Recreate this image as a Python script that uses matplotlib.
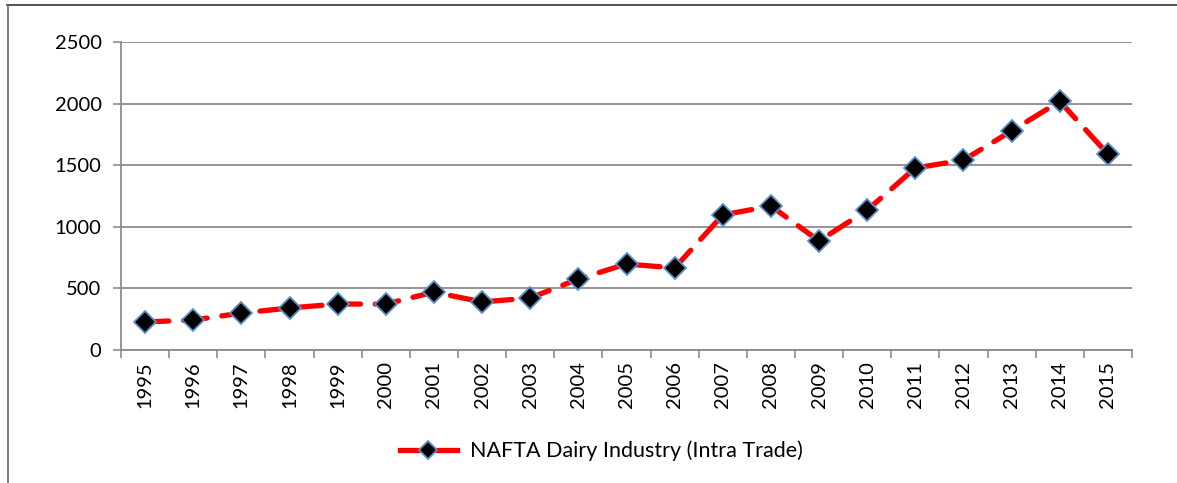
import matplotlib
matplotlib.use("Agg")
import matplotlib.pyplot as plt
from matplotlib.lines import Line2D

# values
years = ["1995", "1996", "1997", "1998", "1999", "2000", "2001", "2002", "2003", "2004",
         "2005", "2006", "2007", "2008", "2009", "2010", "2011", "2012", "2013", "2014", "2015"]
trade = [228, 243, 300, 341, 373, 373, 470, 390, 422, 576,
         698, 666, 1096, 1169, 885, 1136, 1477, 1542, 1778, 2018, 1590]
y_ticks = [0, 500, 1000, 1500, 2000, 2500]

plt.rcParams["font.family"] = ["Lato", "DejaVu Sans"]

W, H = 1177, 483
fig = plt.figure(figsize=(W / 100, H / 100), dpi=100)
ax = fig.add_axes([121 / W, 1 - 350 / H, (1132 - 121) / W, (350 - 42) / H])

x = list(range(len(years)))
ax.plot(x, trade, color="#ff0000", lw=3.8, dashes=(4.5, 2.8), dash_capstyle="round",
        marker="D", markersize=11, markerfacecolor="black", markeredgecolor="#5b8fc9",
        markeredgewidth=1.3, label="NAFTA Dairy Industry (Intra Trade)", zorder=3)

grid_c = "#8c8c8c"
ax.set_ylim(0, 2500)
ax.set_yticks(y_ticks)
ax.set_xlim(-0.5, len(years) - 0.5)
ax.set_xticks(x)
ax.set_xticklabels(years, rotation=90, fontsize=14.5)
ax.tick_params(axis="x", length=0, pad=8)
ax.set_xticks([i - 0.5 for i in range(len(years) + 1)], minor=True)
ax.tick_params(axis="x", which="minor", length=6, color=grid_c, width=1.2)
ax.tick_params(axis="y", length=6, color=grid_c, width=1.2, labelsize=14.5, pad=8)
ax.yaxis.grid(True, color=grid_c, lw=1.3)
ax.set_axisbelow(True)
for s in ["top", "right"]:
    ax.spines[s].set_visible(False)
for s in ["left", "bottom"]:
    ax.spines[s].set_color(grid_c)
    ax.spines[s].set_linewidth(1.3)

handle = Line2D([], [], color="#ff0000", lw=3.8, marker="D", markersize=9,
                markerfacecolor="black", markeredgecolor="#5b8fc9", markeredgewidth=1.3)
fig.legend([handle], ["NAFTA Dairy Industry (Intra Trade)"], loc="center",
           bbox_to_anchor=(601 / W, 1 - 451 / H), frameon=False, fontsize=15.5,
           handlelength=2.65, handletextpad=0.6)

# outer chart border (top and left visible)
fig.add_artist(Line2D([7 / W, 1], [1 - 5 / H, 1 - 5 / H], color="#333333", lw=1.2))
fig.add_artist(Line2D([8 / W, 8 / W], [0, 1 - 5 / H], color="#666666", lw=1.2))

fig.savefig("out.png", dpi=100)
